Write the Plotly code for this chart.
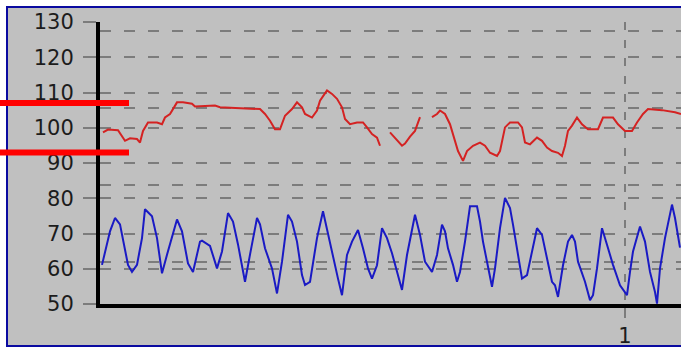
import plotly.graph_objects as go

# ---- data ----
blue_x = [0.477, 0.485, 0.490, 0.495, 0.503, 0.507, 0.512, 0.517, 0.520, 0.527,
          0.532, 0.537, 0.542, 0.552, 0.557, 0.563, 0.568, 0.575, 0.577, 0.585,
          0.592, 0.597, 0.603, 0.608, 0.613, 0.620, 0.625, 0.632, 0.635, 0.640,
          0.647, 0.652, 0.657, 0.663, 0.667, 0.672, 0.677, 0.680, 0.685, 0.692,
          0.698, 0.703, 0.708, 0.713, 0.717, 0.722, 0.727, 0.733, 0.738, 0.743,
          0.747, 0.752, 0.757, 0.762, 0.767, 0.772, 0.777, 0.782, 0.787, 0.790,
          0.795, 0.800, 0.807, 0.812, 0.817, 0.820, 0.823, 0.828, 0.832, 0.835,
          0.840, 0.845, 0.852, 0.855, 0.858, 0.863, 0.867, 0.870, 0.875, 0.880,
          0.885, 0.888, 0.893, 0.897, 0.902, 0.907, 0.912, 0.917, 0.922, 0.927,
          0.930, 0.933, 0.938, 0.943, 0.947, 0.950, 0.953, 0.960, 0.965, 0.968,
          0.972, 0.977, 0.982, 0.988, 0.995, 1.002, 1.005, 1.008, 1.015, 1.020,
          1.025, 1.030, 1.032, 1.035, 1.040, 1.047, 1.050, 1.055]
blue_y = [61.1, 70.6, 74.4, 72.6, 61.1, 59.1, 61.1, 68.7, 76.9, 74.9,
          68.7, 58.7, 64.0, 74.0, 70.6, 61.5, 59.1, 67.7, 68.0, 66.5,
          60.1, 64.9, 75.8, 73.4, 66.9, 56.3, 64.0, 74.4, 72.6, 65.8,
          60.1, 53.0, 62.0, 75.3, 73.4, 67.7, 58.2, 55.4, 56.3, 68.7,
          76.3, 69.6, 63.9, 57.2, 52.5, 63.9, 67.7, 71.0, 65.8, 60.1,
          57.2, 61.0, 71.5, 68.7, 64.4, 59.1, 54.0, 63.9, 71.5, 75.3,
          69.6, 62.0, 59.1, 63.9, 72.5, 70.6, 65.8, 61.1, 56.3, 59.1,
          67.7, 77.7, 77.7, 73.4, 67.7, 60.1, 54.9, 60.1, 71.5, 80.1,
          77.2, 72.5, 63.9, 57.2, 58.2, 64.9, 71.5, 69.6, 63.0, 56.3,
          55.3, 52.0, 61.0, 67.7, 69.6, 67.7, 62.0, 56.3, 51.1, 52.5,
          60.1, 71.5, 66.8, 61.1, 55.3, 52.5, 59.1, 64.9, 72.0, 67.7,
          59.1, 53.4, 50.1, 60.1, 68.7, 78.2, 74.4, 66.0]

red_x = [0.478, 0.483, 0.493, 0.500, 0.505, 0.512, 0.515, 0.518, 0.523, 0.532,
         0.537, 0.540, 0.545, 0.548, 0.552, 0.558, 0.567, 0.570, 0.590, 0.595,
         0.615, 0.635, 0.640, 0.645, 0.650, 0.655, 0.660, 0.667, 0.672, 0.677,
         0.680, 0.687, 0.692, 0.695, 0.702, 0.707, 0.712, 0.717, 0.720, 0.725,
         0.732, 0.738, 0.742, 0.747, 0.752, 0.755, 0.760, 0.765, 0.770, 0.777,
         0.780, 0.785, 0.790, 0.795, 0.801, 0.807, 0.812, 0.815, 0.820, 0.825,
         0.830, 0.833, 0.838, 0.842, 0.848, 0.855, 0.860, 0.865, 0.872, 0.875,
         0.880, 0.885, 0.893, 0.897, 0.900, 0.905, 0.912, 0.917, 0.922, 0.927,
         0.933, 0.937, 0.940, 0.943, 0.947, 0.952, 0.957, 0.963, 0.973, 0.978,
         0.988, 0.993, 1.000, 1.007, 1.012, 1.018, 1.023, 1.037, 1.050, 1.056]
red_y = [98.7, 99.5, 99.3, 96.3, 97.0, 96.8, 95.8, 99.1, 101.5, 101.5,
         101.0, 102.9, 103.9, 105.3, 107.2, 107.2, 106.8, 106.0, 106.3, 105.8,
         105.6, 105.3, 103.9, 102.0, 99.6, 99.6, 103.4, 105.3, 107.2, 105.8,
         103.9, 102.9, 104.9, 107.7, 110.6, 109.6, 108.2, 105.8, 102.5, 101.0,
         101.5, 101.5, 100.1, 98.2, 97.2, 94.9, None, 98.7, 97.2, 94.9,
         95.5, 97.5, 99.1, 103.0, None, 103.0, 103.9, 104.9, 103.9, 101.0,
         96.3, 93.4, 90.6, 93.4, 94.9, 95.8, 94.9, 92.9, 92.0, 93.4,
         100.1, 101.5, 101.5, 100.1, 95.8, 95.3, 97.2, 96.3, 94.4, 93.4,
         92.9, 92.0, 94.9, 99.1, 100.6, 102.9, 101.0, 99.6, 99.6, 102.9,
         102.9, 101.0, 99.1, 99.1, 101.5, 103.9, 105.3, 105.0, 104.4, 103.9]

limit_lines = [107, 93]          # red reference bars at the left
y_ticks = [50, 60, 70, 80, 90, 100, 110, 120, 130]
x_ticks = [1]
x_ticktext = ["1"]

# ---- layout constants (pixels) ----
W, H = 681, 348
L, R, T, B = 100, 0, 22, 44
pw, ph = W - L - R, H - T - B

def px_x(p):  # pixel x -> paper
    return (p - L) / pw

def px_y(p):  # pixel y -> paper
    return 1 - (p - T) / ph

GRID = "#7c7c7c"
FONT = dict(family="DejaVu Sans", size=21, color="#1c1c1c")

fig = go.Figure()
fig.add_trace(go.Scatter(x=red_x, y=red_y, mode="lines",
                         line=dict(color="#d42222", width=2),
                         connectgaps=False, showlegend=False))
fig.add_trace(go.Scatter(x=blue_x, y=blue_y, mode="lines",
                         line=dict(color="#1a1ac4", width=2),
                         showlegend=False))
fig.add_trace(go.Scatter(x=[], y=[], yaxis="y2", showlegend=False,
                         hoverinfo="skip"))

shapes = [dict(type="rect", xref="paper", yref="paper",
               x0=px_x(7), x1=px_x(W + 20), y0=px_y(346), y1=px_y(7),
               line=dict(color="#0a0aa0", width=2), fillcolor="#c0c0c0",
               layer="below")]
for v in limit_lines:
    shapes.append(dict(type="line", xref="paper", yref="y",
                       x0=px_x(0), x1=px_x(129), y0=v, y1=v,
                       line=dict(color="#ff0000", width=6), layer="above"))

fig.update_layout(
    width=W, height=H,
    margin=dict(l=L, r=R, t=T, b=B, pad=0, autoexpand=False),
    paper_bgcolor="white",
    plot_bgcolor="rgba(0,0,0,0)",
    showlegend=False,
    shapes=shapes,
    xaxis=dict(range=[0.475, 1.056], tickvals=x_ticks, ticktext=x_ticktext,
               automargin=False,
               showgrid=True, gridcolor=GRID, gridwidth=2, griddash="8px,10px",
               zeroline=False, showline=True, linecolor="black", linewidth=4,
               ticks="outside", ticklen=10, tickcolor=GRID, tickwidth=2,
               ticklabelstandoff=0, tickfont=FONT),
    yaxis=dict(range=[50, 130], tickvals=y_ticks, automargin=False,
               showgrid=True, gridcolor=GRID, gridwidth=2, griddash="11px,13px",
               zeroline=False, showline=True, linecolor="black", linewidth=4,
               ticks="outside", ticklen=13, tickcolor=GRID, tickwidth=2,
               ticklabelstandoff=5, tickfont=FONT),
    yaxis2=dict(overlaying="y", range=[-0.545, 3.117], dtick=1, tick0=0,
                automargin=False,
                showticklabels=False, showgrid=True, gridcolor=GRID,
                gridwidth=2, griddash="11px,13px", zeroline=False,
                showline=False, ticks=""),
)

fig.write_html("out.html",
               config={"displayModeBar": False},
               post_script="document.body.style.margin='0px';"
                           "document.body.style.overflow='hidden';")
